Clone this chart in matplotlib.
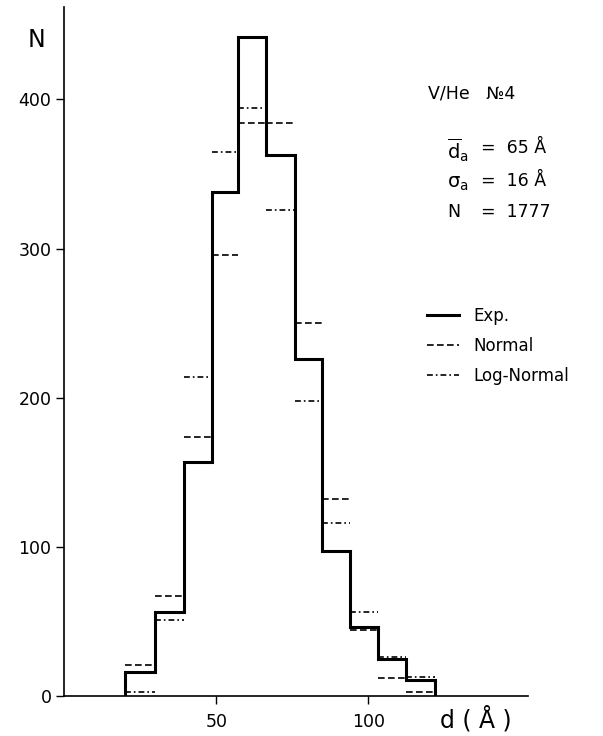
import matplotlib
matplotlib.use("Agg")
import matplotlib.pyplot as plt

# size classes (Angstrom)
bin_edges = [20.0, 30.0, 39.3, 48.6, 57.3, 66.3, 75.9, 84.7, 94.0, 103.1, 112.3, 122.0]

# counts per class
exp_counts = [16, 56, 157, 338, 442, 363, 226, 97, 46, 25, 11]
normal_fit = [21, 67, 174, 296, 384, 384, 250, 132, 44, 12, 2.5]
lognormal_fit = [3, 51, 214, 365, 394, 326, 198, 116, 56, 26, 13]

y_ticks = [0, 100, 200, 300, 400]
x_ticks = [50, 100]

W, H = 603, 736


def fx(px):
    return px / W


def fy(py):
    return 1 - py / H


fig = plt.figure(figsize=(W / 100, H / 100), dpi=100)
ax = fig.add_axes([fx(64), fy(696), fx(528) - fx(64), fy(7) - fy(696)])

lefts = bin_edges[:-1]
rights = bin_edges[1:]

exp_line = ax.stairs(exp_counts, bin_edges, baseline=0, color="black", lw=2.2,
                     label="Exp.")
norm_line = ax.hlines(normal_fit, lefts, rights, colors="black", lw=1.2,
                      linestyles=(0, (4, 2)), label="Normal")
logn_line = ax.hlines(lognormal_fit, lefts, rights, colors="black", lw=1.2,
                      linestyles=(0, (3.5, 1.8, 1, 1.8)), label="Log-Normal")

ax.set_xlim(0, 152.4)
ax.set_ylim(0, 462)
ax.spines["top"].set_visible(False)
ax.spines["right"].set_visible(False)
ax.spines["left"].set_linewidth(1.2)
ax.spines["bottom"].set_linewidth(1.2)

ax.set_yticks(y_ticks)
ax.set_xticks(x_ticks)
ax.tick_params(axis="both", direction="out", length=6, width=1, labelsize=12.5)
ax.tick_params(axis="y", pad=3)
ax.tick_params(axis="x", pad=6)

# axis titles
fig.text(fx(36), fy(40), "N", fontsize=17, ha="center", va="center")
fig.text(fx(476), fy(719), "d ( Å )", fontsize=17, ha="center", va="center")

# annotation block
fig.text(fx(428), fy(93), "V/He   №4", fontsize=12.5, ha="left", va="center")
fig.text(fx(447), fy(150), r"$\overline{\mathrm{d}}_{\mathrm{a}}$", fontsize=14,
         ha="left", va="center")
fig.text(fx(447), fy(183), r"σ$_{\mathrm{a}}$", fontsize=14,
         ha="left", va="center")
fig.text(fx(447), fy(212), "N", fontsize=12.5, ha="left", va="center")
fig.text(fx(481), fy(148), "=  65 Å", fontsize=12.5, ha="left", va="center")
fig.text(fx(481), fy(181), "=  16 Å", fontsize=12.5, ha="left", va="center")
fig.text(fx(481), fy(212), "=  1777", fontsize=12.5, ha="left", va="center")

ax.legend(handles=[exp_line, norm_line, logn_line], frameon=False,
          loc="upper left", bbox_to_anchor=(fx(427), fy(307)),
          bbox_transform=fig.transFigure, fontsize=12,
          handlelength=1.9, handletextpad=0.9, labelspacing=0.72,
          borderpad=0, borderaxespad=0)

fig.savefig("out.png", dpi=100)
